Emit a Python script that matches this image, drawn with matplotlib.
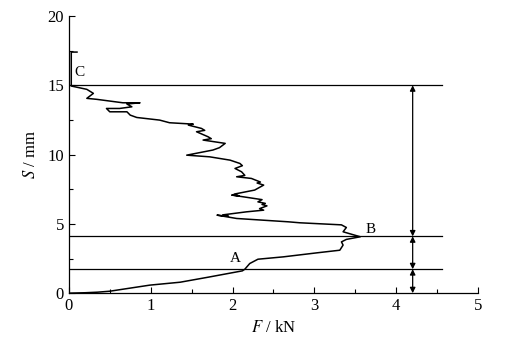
import numpy as np
import matplotlib
matplotlib.use("Agg")
import matplotlib.pyplot as plt
from matplotlib.ticker import MultipleLocator

# force F (kN) and displacement S (mm)
force = [0.00, 0.20, 0.35, 0.50, 0.70, 0.99, 1.36, 1.70, 2.12, 2.15, 2.21, 2.31,
         2.62, 3.03, 3.31, 3.35, 3.33, 3.39, 3.56, 3.46, 3.35, 3.39, 3.33, 2.82,
         2.68, 2.05, 1.81, 1.95, 1.88, 2.17, 2.38, 2.33, 2.42, 2.36, 2.40, 2.31,
         2.36, 1.99, 2.08, 2.02, 2.27, 2.38, 2.30, 2.34, 2.23, 2.05, 2.15, 2.11,
         2.03, 2.12, 2.09, 1.97, 1.72, 1.44, 1.76, 1.84, 1.91, 1.64, 1.74, 1.70,
         1.56, 1.66, 1.62, 1.46, 1.52, 1.23, 1.11, 0.83, 0.75, 0.71, 0.50, 0.46,
         0.62, 0.77, 0.71, 0.87, 0.66, 0.34, 0.22, 0.30, 0.22, 0.03, 0.03, 0.10]
disp = [0.00, 0.03, 0.07, 0.14, 0.32, 0.58, 0.79, 1.15, 1.61, 1.73, 2.14, 2.45,
        2.62, 2.91, 3.10, 3.47, 3.70, 3.88, 4.07, 4.24, 4.43, 4.74, 4.93, 5.08,
        5.15, 5.39, 5.63, 5.55, 5.65, 5.87, 5.99, 6.10, 6.30, 6.40, 6.48, 6.59,
        6.75, 7.08, 7.02, 7.15, 7.44, 7.80, 7.95, 8.02, 8.28, 8.40, 8.50, 8.76,
        9.00, 9.20, 9.36, 9.60, 9.84, 9.96, 10.33, 10.50, 10.81, 11.05, 11.15, 11.29,
        11.65, 11.75, 11.89, 12.13, 12.20, 12.30, 12.49, 12.68, 12.85, 13.09, 13.09, 13.33,
        13.33, 13.45, 13.65, 13.74, 13.74, 13.99, 14.06, 14.42, 14.71, 14.95, 17.40, 17.40]

# stage boundaries (S, mm) and point labels
levels = [0.0, 1.73, 4.1, 15.0]
line_end = 4.56
arrow_x = 4.2
point_names = ["A", "B", "C"]
point_pos = [(2.04, 2.5), (3.68, 4.6), (0.13, 15.95)]

plt.rcParams["font.family"] = ["Liberation Serif", "DejaVu Serif"]
plt.rcParams["mathtext.fontset"] = "stix"

fig = plt.figure(figsize=(5.06, 3.49), dpi=100)
ax = fig.add_axes([0.136, 0.160, 0.809, 0.794])

ax.plot(force, disp, color="black", lw=1.1)

for lv in levels[1:]:
    ax.plot([0, line_end], [lv, lv], color="black", lw=0.9)

for lo, hi in zip(levels[:-1], levels[1:]):
    ax.annotate("", xy=(arrow_x, hi), xytext=(arrow_x, lo),
                arrowprops=dict(arrowstyle="<|-|>", color="black", lw=0.9,
                                mutation_scale=8, shrinkA=0, shrinkB=0))

for name, (px, py) in zip(point_names, point_pos):
    ax.text(px, py, name, fontsize=11, ha="center", va="center")

ax.set_xlim(0, 5)
ax.set_ylim(0, 20)
ax.xaxis.set_major_locator(MultipleLocator(1))
ax.xaxis.set_minor_locator(MultipleLocator(0.5))
ax.yaxis.set_major_locator(MultipleLocator(5))
ax.yaxis.set_minor_locator(MultipleLocator(2.5))
ax.tick_params(which="both", direction="in", labelsize=12, width=0.8)
ax.tick_params(which="major", length=4)
ax.tick_params(which="minor", length=3)
for side in ("top", "right"):
    ax.spines[side].set_visible(False)
for side in ("left", "bottom"):
    ax.spines[side].set_linewidth(0.9)

ax.set_xlabel(r"$F$ / kN", fontsize=12, labelpad=4)
ax.set_ylabel(r"$S$ / mm", fontsize=12, labelpad=6)

fig.savefig("out.png", dpi=100)
